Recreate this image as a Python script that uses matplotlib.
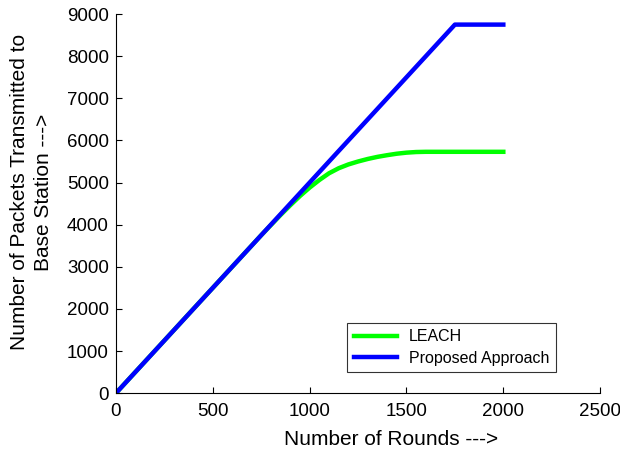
import matplotlib
matplotlib.use("Agg")
import matplotlib.pyplot as plt

plt.rcParams["font.family"] = ["Liberation Sans", "DejaVu Sans"]

# Values
rounds_proposed = [0, 250, 500, 750, 1000, 1250, 1500, 1750, 2000]
packets_proposed = [0, 1250, 2500, 3750, 5000, 6250, 7500, 8750, 8750]

rounds_leach = [0, 250, 500, 750, 850, 900, 950, 1000, 1050, 1100, 1150, 1200,
                1250, 1300, 1350, 1400, 1450, 1500, 1550, 1600, 1800, 2000]
packets_leach = [0, 1250, 2500, 3750, 4230, 4460, 4680, 4880, 5060, 5220, 5340, 5430,
                 5500, 5560, 5610, 5650, 5685, 5710, 5725, 5730, 5730, 5730]

fig = plt.figure(figsize=(6.2, 4.54), dpi=100)
ax = fig.add_axes([0.187, 0.134, 0.781, 0.835])

ax.plot(rounds_leach, packets_leach, color="#00ff00", lw=3.2, label="LEACH")
ax.plot(rounds_proposed, packets_proposed, color="#0000ff", lw=3.2, label="Proposed Approach")

ax.set_xlim(0, 2500)
ax.set_ylim(0, 9000)
ax.set_xticks(range(0, 2501, 500))
ax.set_yticks(range(0, 9001, 1000))
ax.spines["top"].set_visible(False)
ax.spines["right"].set_visible(False)
ax.tick_params(direction="in", length=4, labelsize=13.5)
ax.tick_params(axis="x", pad=7)
ax.tick_params(axis="y", pad=5)

ax.set_xlabel("Number of Rounds --->", fontsize=15, labelpad=7, x=0.568)
ax.set_ylabel("Number of Packets Transmitted to\nBase Station --->", fontsize=15,
              labelpad=10, linespacing=1.35, y=0.53)

leg = ax.legend(loc="lower left", bbox_to_anchor=(0.477, 0.055),
                fontsize=11.5, frameon=True, fancybox=False,
                edgecolor="black", handlelength=2.7, handletextpad=0.75,
                labelspacing=0.4, borderaxespad=0, borderpad=0.42)
leg.get_frame().set_linewidth(0.8)

fig.savefig("out.png", dpi=100)
